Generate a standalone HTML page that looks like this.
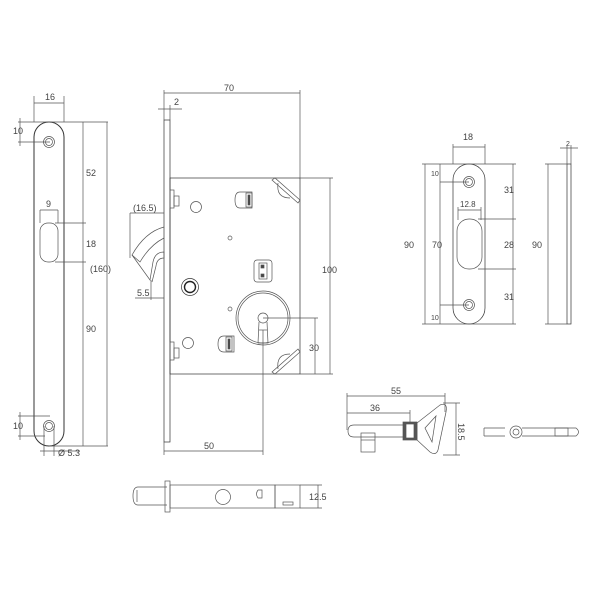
<!DOCTYPE html>
<html><head><meta charset="utf-8"><style>
html,body{margin:0;padding:0;background:#fff}
svg{display:block}
text{font-family:"Liberation Sans",sans-serif;font-size:9px;fill:#444}
</style></head><body>
<svg width="604" height="604" viewBox="0 0 604 604" xmlns="http://www.w3.org/2000/svg">
<g fill="none" stroke="#555" stroke-width="0.7">
<!-- left strip -->
<rect x="34" y="122" width="30" height="324" rx="15" stroke="#333" stroke-width="1"/>
<circle cx="49" cy="142" r="5.5"/><circle cx="49" cy="142" r="3.5"/>
<circle cx="49" cy="426" r="5.5"/><circle cx="49" cy="426" r="3.5"/>
<rect x="40" y="223" width="18" height="39" rx="8"/>
<line x1="34" y1="103" x2="64" y2="103"/><line x1="34" y1="96" x2="34" y2="122"/><line x1="64" y1="96" x2="64" y2="122"/>
<line x1="18" y1="122" x2="108" y2="122"/><line x1="18" y1="142" x2="50" y2="142"/><line x1="20" y1="118" x2="20" y2="146"/>
<line x1="83" y1="122" x2="83" y2="446"/><line x1="107" y1="122" x2="107" y2="446"/>
<line x1="55" y1="223" x2="86" y2="223"/><line x1="55" y1="262" x2="86" y2="262"/>
<line x1="40" y1="210" x2="58" y2="210"/><line x1="40" y1="210" x2="40" y2="223"/><line x1="58" y1="210" x2="58" y2="223"/>
<line x1="49" y1="446" x2="108" y2="446"/>
<line x1="18" y1="416" x2="50" y2="416"/><line x1="18" y1="436" x2="45" y2="436"/><line x1="20" y1="412" x2="20" y2="440"/>
<line x1="44" y1="426" x2="44" y2="456"/><line x1="54" y1="426" x2="54" y2="456"/><line x1="40" y1="451" x2="80" y2="451"/>
<!-- lock faceplate/body -->
<rect x="164" y="120" width="6" height="322" stroke="#333"/>
<rect x="170" y="178" width="130" height="196" stroke="#333"/>
<line x1="164" y1="93" x2="300" y2="93"/><line x1="164" y1="90" x2="164" y2="120"/><line x1="300" y1="90" x2="300" y2="178"/>
<line x1="158" y1="109" x2="182" y2="109"/><line x1="170" y1="105" x2="170" y2="120"/>
<line x1="300" y1="178" x2="333" y2="178"/><line x1="300" y1="374" x2="333" y2="374"/><line x1="330" y1="178" x2="330" y2="374"/>
<line x1="263" y1="318" x2="318" y2="318"/><line x1="315" y1="318" x2="315" y2="374"/>
<line x1="164" y1="442" x2="164" y2="455"/><line x1="164" y1="451" x2="263" y2="451"/><line x1="263" y1="330" x2="263" y2="455"/>
<line x1="130" y1="213" x2="164" y2="213"/><line x1="130" y1="213" x2="130" y2="258"/>
<line x1="135" y1="298" x2="164" y2="298"/><line x1="151" y1="280" x2="151" y2="300"/>
<!-- hook -->
<path d="M164 227 Q145 232 132 255 L140 262 Q150 245 164 238"/>
<path d="M132 255 L150 280 L153 262 Q155 252 164 252 L164 258 Q157 258 156 266 L152 282"/>
<!-- latch studs -->
<rect x="170" y="190" width="4" height="18"/><rect x="174" y="196" width="5" height="10"/>
<rect x="170" y="342" width="4" height="18"/><rect x="174" y="348" width="5" height="10"/>
<circle cx="196" cy="207" r="5.5"/><circle cx="188" cy="343" r="5.5"/>
<circle cx="190" cy="287" r="8.5" stroke="#333"/><circle cx="190" cy="287" r="5.5" stroke="#222" stroke-width="1.4"/>
<circle cx="230" cy="238" r="2"/><circle cx="230" cy="309" r="2"/>
<circle cx="263" cy="318" r="27"/><circle cx="263" cy="318" r="25"/>
<circle cx="263" cy="318" r="5"/><path d="M259 322 L258 343 L268 343 L267 322"/><line x1="259" y1="330" x2="267" y2="330"/>
<!-- stirrups -->
<path d="M252 192 L240 192 Q235 192 235 200 Q235 208 240 208 L252 208 Z"/><rect x="246" y="193" width="6" height="14"/><rect x="248" y="195" width="2" height="10" fill="#444"/>
<path d="M224 336 L234 336 L234 352 L224 352 Q218 352 218 344 Q218 336 224 336 Z"/><rect x="226" y="337" width="6" height="14"/><rect x="228" y="339" width="2" height="10" fill="#444"/>
<rect x="254" y="260" width="18" height="22" rx="3"/><rect x="259" y="263" width="8" height="16"/><rect x="261" y="265" width="3" height="3" fill="#444"/><rect x="261" y="274" width="3" height="3" fill="#444"/>
<!-- corner catches -->
<path d="M272 180 L275 178 L300 200 L298 203 Z"/><path d="M278 183 Q276 198 290 198"/>
<path d="M272 372 L275 374 L300 352 L298 349 Z"/><path d="M278 369 Q276 354 290 354"/>
<!-- strike plate -->
<rect x="453" y="164" width="32" height="160" rx="16" stroke="#333"/>
<circle cx="469" cy="182" r="5.5"/><circle cx="469" cy="182" r="3.5"/>
<circle cx="469" cy="305" r="5.5"/><circle cx="469" cy="305" r="3.5"/>
<rect x="457" y="219" width="25" height="50" rx="12"/>
<line x1="453" y1="147" x2="485" y2="147"/><line x1="453" y1="144" x2="453" y2="164"/><line x1="485" y1="144" x2="485" y2="164"/>
<line x1="422" y1="164" x2="516" y2="164"/><line x1="422" y1="324" x2="516" y2="324"/>
<line x1="425" y1="164" x2="425" y2="324"/><line x1="440" y1="164" x2="440" y2="324"/>
<line x1="440" y1="182" x2="469" y2="182"/><line x1="440" y1="305" x2="469" y2="305"/>
<line x1="513" y1="164" x2="513" y2="324"/>
<line x1="478" y1="219" x2="516" y2="219"/><line x1="478" y1="269" x2="516" y2="269"/>
<line x1="458" y1="210" x2="481" y2="210"/><line x1="458" y1="207" x2="458" y2="220"/><line x1="481" y1="207" x2="481" y2="220"/>
<rect x="567" y="164" width="4" height="160" stroke="#333"/>
<line x1="545" y1="164" x2="567" y2="164"/><line x1="545" y1="324" x2="567" y2="324"/><line x1="548" y1="164" x2="548" y2="324"/>
<line x1="567" y1="145" x2="567" y2="164"/><line x1="571" y1="145" x2="571" y2="164"/><line x1="560" y1="148" x2="578" y2="148"/>
<!-- key -->
<line x1="347" y1="396" x2="445" y2="396"/><line x1="347" y1="393" x2="347" y2="430"/><line x1="445" y1="393" x2="445" y2="412"/>
<line x1="347" y1="413" x2="410" y2="413"/><line x1="410" y1="410" x2="410" y2="425"/>
<line x1="443" y1="403" x2="460" y2="403"/><line x1="443" y1="455" x2="460" y2="455"/><line x1="456" y1="403" x2="456" y2="455"/>
<path d="M405 425 L354 425 Q348 425 348 431 Q348 437 354 437 L405 437"/>
<rect x="361" y="433" width="14" height="19"/><line x1="361" y1="440" x2="375" y2="440"/>
<rect x="403" y="422" width="14" height="18" fill="#555"/><rect x="406" y="424" width="8" height="14" fill="#fff"/>
<path d="M417 423 L440 405 Q448 402 446 412 L438 450 Q436 456 430 452 L417 440 Z"/><path d="M425 428 L436 416 L432 442 Z"/>
<path d="M484 428 L505 428 M484 436 L505 436 M484 428 L484 436"/>
<circle cx="516" cy="432" r="6"/><circle cx="516" cy="432" r="3"/>
<path d="M522 428 L576 428 Q581 432 576 436 L522 436"/><rect x="555" y="428" width="13" height="8"/>
<!-- bottom bolt -->
<path d="M167 487 L138 487 Q133 487 133 496 Q133 505 138 505 L167 505"/>
<line x1="137" y1="490" x2="137" y2="502"/>
<rect x="165" y="481" width="5" height="31"/>
<rect x="170" y="485" width="105" height="23"/>
<rect x="275" y="485" width="25" height="23"/>
<circle cx="223" cy="497" r="7.5"/>
<path d="M258 490 L262 490 L262 498 L258 498 Q255 494 258 490"/>
<rect x="283" y="502" width="10" height="3"/>
<line x1="300" y1="485" x2="322" y2="485"/><line x1="300" y1="508" x2="322" y2="508"/><line x1="318" y1="485" x2="318" y2="508"/>
</g>
<text x="45" y="100">16</text>
<text x="13" y="134">10</text>
<text x="86" y="176">52</text>
<text x="46" y="207">9</text>
<text x="86" y="247">18</text>
<text x="90" y="272">(160)</text>
<text x="86" y="332">90</text>
<text x="13" y="429">10</text>
<text x="58" y="456">Ø 5.3</text>
<text x="224" y="91">70</text>
<text x="174" y="105">2</text>
<text x="133" y="211">(16.5)</text>
<text x="137" y="296">5.5</text>
<text x="322" y="273">100</text>
<text x="309" y="351">30</text>
<text x="204" y="449">50</text>
<text x="463" y="140">18</text>
<text x="404" y="248">90</text>
<text x="432" y="248">70</text>
<text x="431" y="176" style="font-size:7px">10</text>
<text x="431" y="320" style="font-size:7px">10</text>
<text x="504" y="193">31</text>
<text x="504" y="248">28</text>
<text x="504" y="300">31</text>
<text x="460" y="207" style="font-size:8px">12.8</text>
<text x="532" y="248">90</text>
<text x="566" y="146" style="font-size:7px">2</text>
<text x="391" y="394">55</text>
<text x="370" y="411">36</text>
<text x="458" y="423" transform="rotate(90 458 423)">18.5</text>
<text x="309" y="500">12.5</text>
</svg>
</body></html>
